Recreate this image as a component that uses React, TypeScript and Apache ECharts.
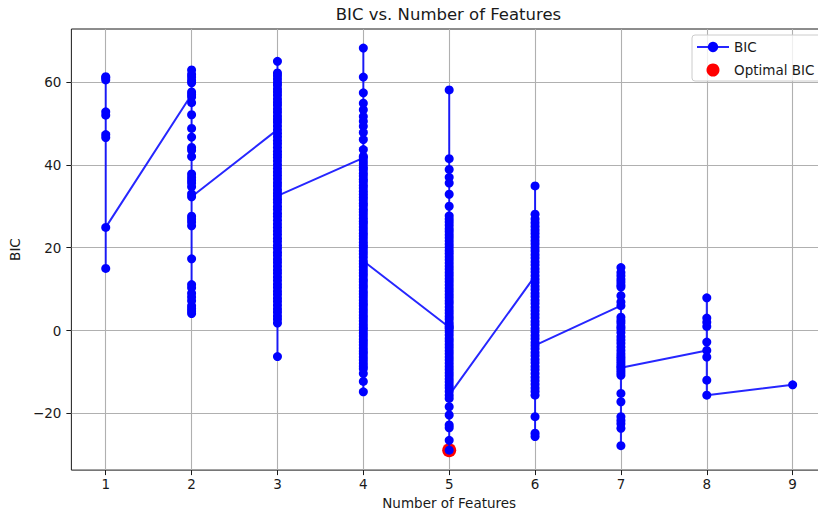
import { useEffect, useRef } from "react";
import * as echarts from "echarts";

// BIC of every feature subset, grouped by the number of features in the subset.
// The first value of each group is where the connecting line enters, the last where it leaves.
const featureCounts = [1, 2, 3, 4, 5, 6, 7, 8, 9];

const bic1 = [61.3, 46.6, 52.8, 15.0, 60.5, 47.3, 52.0, 61.0, 24.9];

const bic2 = [
  57.0, 62.9, 61.9, 61.2, 60.4, 59.8, 57.6, 56.4, 55.0, 52.1, 48.8, 46.7, 44.2, 43.5, 42.0, 37.8,
  37.0, 36.3, 35.6, 34.7, 27.6, 26.9, 26.2, 25.3, 17.3, 11.1, 10.3, 9.0, 8.1, 7.2, 6.0, 5.3, 4.7,
  4.1, 33.0, 32.3,
];

const bic3 = [
  48.5, 65.0, 62.2, 61.5, 60.7, 59.9, 59.2, 58.3, 57.6, 56.8, 55.9, 55.1, 54.4, 53.5, 52.7, 51.8,
  51.0, 50.3, 49.4, 47.6, 46.8, 45.9, 45.1, 44.2, 43.3, 42.5, 41.8, 40.9, 40.0, 39.1, 38.3, 37.4,
  36.6, 35.7, 34.9, 34.0, 33.2, 31.7, 30.9, 30.0, 29.2, 28.3, 27.5, 26.6, 25.7, 24.9, 24.0, 23.2,
  22.3, 21.5, 20.6, 19.8, 18.9, 18.1, 17.2, 16.4, 15.5, 14.6, 13.8, 12.9, 12.1, 11.2, 10.4, 9.5,
  8.7, 7.8, 7.0, 6.1, 5.2, 4.4, 3.5, 2.7, 1.8, -6.3, 32.5,
];

const bic4 = [
  41.7, 68.2, 61.2, 57.4, 54.9, 53.3, 51.7, 50.5, 49.3, 47.8, 46.1, 43.7, 42.1, 40.9, 40.2, 39.4,
  38.8, 38.0, 37.3, 36.5, 35.9, 35.1, 34.4, 33.6, 32.9, 32.2, 31.5, 30.7, 30.1, 29.3, 28.6, 27.9,
  27.1, 26.4, 25.8, 25.0, 24.3, 23.5, 22.8, 22.1, 21.3, 20.6, 20.0, 19.2, 18.5, 17.7, 16.1, 15.4,
  14.6, 13.9, 13.2, 12.4, 11.8, 11.0, 10.3, 9.5, 8.8, 8.1, 7.3, 6.6, 6.0, 5.2, 4.5, 3.7, 3.0, 2.3,
  1.5, 0.8, 0.2, -0.6, -1.3, -2.1, -2.8, -3.5, -4.3, -5.0, -5.6, -6.4, -7.1, -7.9, -8.6, -9.2,
  -10.4, -12.3, -14.8, 16.8,
];

const bic5 = [
  0.8, 58.1, 41.5, 38.9, 37.0, 35.6, 32.9, 30.0, 27.7, 26.9, 26.2, 25.4, 24.6, 23.9, 23.1, 22.4,
  21.6, 20.8, 20.1, 19.3, 18.6, 17.8, 17.1, 16.3, 15.5, 14.8, 14.0, 13.3, 12.5, 11.8, 11.0, 10.2,
  9.5, 8.7, 8.0, 7.2, 6.5, 5.7, 4.9, 4.2, 3.4, 2.7, 1.9, 1.2, 0.4, -0.3, -1.1, -1.9, -2.6, -3.4,
  -4.1, -4.9, -5.6, -6.4, -7.1, -7.9, -8.7, -9.4, -10.2, -10.9, -11.7, -12.4, -13.2, -13.9, -14.7,
  -16.4, -18.4, -20.4, -22.8, -23.5, -26.5, -28.9, -15.6,
];

const bic6 = [
  13.2, 34.9, 28.1, 26.9, 26.0, 25.1, 24.3, 23.4, 22.6, 21.7, 20.9, 20.0, 19.2, 18.3, 17.5, 16.6,
  15.8, 14.9, 14.1, 12.4, 11.6, 10.7, 9.9, 9.0, 8.2, 7.3, 6.5, 5.6, 4.8, 3.9, 3.1, 2.2, 1.4, 0.5,
  -0.3, -1.2, -2.0, -2.9, -4.4, -5.3, -6.1, -7.0, -7.8, -8.7, -9.5, -10.4, -11.3, -12.1, -13.0,
  -13.9, -14.7, -15.6, -20.8, -24.8, -25.6, -3.6,
];

const bic7 = [
  6.0, 15.2, 14.0, 13.2, 12.4, 11.7, 11.0, 10.5, 8.4, 6.9, 3.2, 2.4, 1.8, 1.0, 0.4, -0.5, -1.5,
  -2.3, -3.1, -4.0, -4.8, -5.6, -6.3, -6.8, -7.4, -8.0, -8.6, -9.6, -10.2, -10.8, -15.2, -17.2,
  -20.8, -21.7, -22.5, -23.6, -27.8, -9.0,
];

const bic8 = [-4.8, 7.9, 3.0, 2.0, 1.0, -2.8, -6.4, -12.0, -15.6];

const bic9 = [-13.1];

const bicGroups = [bic1, bic2, bic3, bic4, bic5, bic6, bic7, bic8, bic9];

const xTicks = [1, 2, 3, 4, 5, 6, 7, 8, 9];
const yTicks = [-20, 0, 20, 40, 60];

const FONT = "DejaVu Sans";

export default function App() {
  const ref = useRef<HTMLDivElement>(null);

  useEffect(() => {
    if (!ref.current) return;
    const chart = echarts.init(ref.current, null, { renderer: "svg" });

    const points: [number, number][] = [];
    bicGroups.forEach((vals, i) => vals.forEach((v) => points.push([featureCounts[i], v])));
    const best = points.reduce((a, b) => (b[1] < a[1] ? b : a));

    const fmtTick = (v: number) => (v < 0 ? "\u2212" + Math.abs(v) : String(v));

    chart.setOption({
      animation: false,
      backgroundColor: "#ffffff",
      textStyle: { fontFamily: FONT },
      graphic: [
        {
          type: "text",
          x: 448.5,
          y: 14,
          style: {
            text: "BIC vs. Number of Features",
            fill: "#1a1a1a",
            font: `16.5px "${FONT}"`,
            textAlign: "center",
            textVerticalAlign: "middle",
          },
        },
      ],
      legend: {
        data: ["BIC", "Optimal BIC"],
        orient: "vertical",
        left: 692,
        top: 35,
        padding: [5, 14, 4, 4],
        itemWidth: 32,
        itemHeight: 13,
        itemGap: 9,
        borderColor: "#cccccc",
        borderWidth: 1,
        borderRadius: 3,
        backgroundColor: "rgba(255,255,255,0.8)",
        textStyle: { fontFamily: FONT, fontSize: 13.5, color: "#1a1a1a" },
      },
      grid: {
        left: 70,
        top: 29,
        width: 757,
        height: 443,
        show: true,
        borderColor: "#1a1a1a",
        borderWidth: 1,
        backgroundColor: "transparent",
      },
      xAxis: {
        type: "value",
        min: 0.6,
        max: 9.4,
        name: "Number of Features",
        nameLocation: "middle",
        nameGap: 25,
        nameTextStyle: { fontFamily: FONT, fontSize: 13.5, color: "#1a1a1a" },
        axisLine: { show: false, onZero: false },
        axisTick: {
          show: true,
          customValues: xTicks,
          length: 5,
          lineStyle: { color: "#1a1a1a", width: 1 },
        },
        axisLabel: {
          customValues: xTicks,
          margin: 7,
          fontFamily: FONT,
          fontSize: 13.5,
          color: "#1a1a1a",
        },
        splitLine: { show: false },
      },
      yAxis: {
        type: "value",
        min: -33.7,
        max: 72.8,
        name: "BIC",
        nameLocation: "middle",
        nameGap: 44,
        nameTextStyle: { fontFamily: FONT, fontSize: 13.5, color: "#1a1a1a" },
        axisLine: { show: false, onZero: false },
        axisTick: {
          show: true,
          customValues: yTicks,
          length: 5,
          lineStyle: { color: "#1a1a1a", width: 1 },
        },
        axisLabel: {
          customValues: yTicks,
          margin: 10,
          fontFamily: FONT,
          fontSize: 13.5,
          color: "#1a1a1a",
          formatter: fmtTick,
        },
        splitLine: { show: false },
      },
      series: [
        {
          // grid lines at the tick positions, kept underneath the data
          type: "line",
          data: [],
          z: 0,
          silent: true,
          markLine: {
            z: 0,
            silent: true,
            symbol: ["none", "none"],
            label: { show: false },
            lineStyle: { color: "#b0b0b0", width: 1.1, type: "solid" },
            emphasis: { disabled: true },
            data: [
              ...xTicks.map((v) => ({ xAxis: v })),
              ...yTicks.map((v) => ({ yAxis: v })),
            ],
          },
        },
        {
          name: "Optimal BIC",
          type: "scatter",
          z: 2,
          symbol: "circle",
          symbolSize: 14,
          itemStyle: { color: "#ff0000", opacity: 1 },
          data: [best],
        },
        {
          name: "BIC",
          type: "line",
          z: 3,
          symbol: "circle",
          symbolSize: 9,
          showSymbol: true,
          itemStyle: { color: "#0000ff", opacity: 1 },
          lineStyle: { color: "#0000ff", width: 2, opacity: 0.85 },
          data: points,
        },
      ],
    });

    return () => chart.dispose();
  }, []);

  // The plot's right edge runs a little past the visible frame, so the chart is
  // drawn wider than the frame and clipped.
  return (
    <div
      style={{
        position: "absolute",
        left: 0,
        top: 0,
        width: 818,
        height: 515,
        overflow: "hidden",
      }}
    >
      <div ref={ref} style={{ width: 840, height: 515 }} />
    </div>
  );
}
